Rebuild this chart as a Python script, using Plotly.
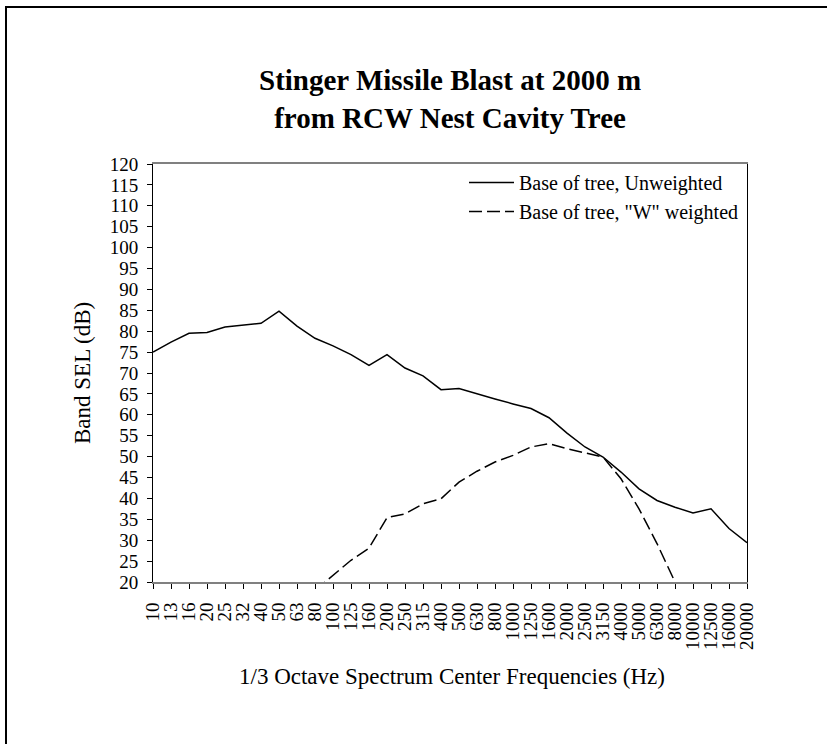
import plotly.graph_objects as go

freqs = ["10", "13", "16", "20", "25", "32", "40", "50", "63", "80", "100", "125",
         "160", "200", "250", "315", "400", "500", "630", "800", "1000", "1250",
         "1600", "2000", "2500", "3150", "4000", "5000", "6300", "8000", "10000",
         "12500", "16000", "20000"]

unweighted = [75.0, 77.4, 79.5, 79.7, 81.0, 81.5, 81.9, 84.8, 81.2, 78.3, 76.5, 74.4,
              71.8, 74.4, 71.2, 69.3, 66.0, 66.3, 65.0, 63.8, 62.6, 61.5, 59.3, 55.6,
              52.3, 49.9, 46.3, 42.3, 39.5, 37.9, 36.5, 37.5, 32.8, 29.4]

w_weighted = [None, None, None, None, None, None, None, None, None, 18.0, 21.6, 25.2,
              28.1, 35.4, 36.3, 38.7, 39.9, 43.9, 46.5, 48.7, 50.3, 52.3, 53.1, 51.9,
              50.9, 49.9, 44.7, 37.5, 29.2, 20.0, None, None, None, None]

names = ["Base of tree, Unweighted", 'Base of tree, "W" weighted']
title_lines = ["Stinger Missile Blast at 2000 m", "from RCW Nest Cavity Tree"]

FONT = "Liberation Serif, Times New Roman, serif"

# plot area in pixels
L, R, T, B = 153, 747, 164, 582
W, H = 827, 744
PW, PH = R - L, B - T


def px(x):
    return (x - L) / PW


def py(y):
    return (B - y) / PH


fig = go.Figure()
fig.add_trace(go.Scatter(x=freqs, y=unweighted, mode="lines", name=names[0],
                         line=dict(color="black", width=1.5)))
fig.add_trace(go.Scatter(x=freqs, y=w_weighted, mode="lines", name=names[1],
                         line=dict(color="black", width=1.5, dash="13px,5px")))

fig.update_layout(
    width=W, height=H,
    margin=dict(l=L, r=W - R, t=T, b=H - B, pad=0),
    paper_bgcolor="white", plot_bgcolor="white",
    font=dict(family=FONT, color="black", size=19),
    showlegend=True,
    legend=dict(x=px(464), y=py(163), xanchor="left", yanchor="top",
                bgcolor="rgba(0,0,0,0)", font=dict(size=20, family=FONT),
                itemwidth=45, tracegroupgap=0),
    xaxis=dict(type="category", range=[0, len(freqs) - 1],
               tickmode="linear", tick0=0, dtick=1,
               showline=True, linecolor="#808080", linewidth=2, mirror=True,
               ticks="outside", ticklen=5, tickcolor="black", tickwidth=1,
               tickangle=-90, showgrid=False, zeroline=False,
               ticklabelstandoff=6,
               tickfont=dict(size=19, family=FONT)),
    yaxis=dict(range=[20, 120], dtick=5, showline=True, linecolor="black",
               linewidth=1, mirror=True, ticks="outside", ticklen=5,
               tickcolor="black", showgrid=False, zeroline=False,
               ticklabelstandoff=5,
               tickfont=dict(size=19, family=FONT)),
    annotations=[
        dict(text="<b>" + title_lines[0] + "<br>" + title_lines[1] + "</b>",
             xref="paper", yref="paper", x=0.5, y=py(99), xanchor="center",
             yanchor="middle", showarrow=False, font=dict(size=29, family=FONT)),
        dict(text="Band SEL (dB)", xref="paper", yref="paper", x=px(82), y=0.5,
             textangle=-90, xanchor="center", yanchor="middle", showarrow=False,
             font=dict(size=23, family=FONT)),
        dict(text="1/3 Octave Spectrum Center Frequencies (Hz)", xref="paper",
             yref="paper", x=px(452), y=py(676), xanchor="center",
             yanchor="middle", showarrow=False, font=dict(size=23, family=FONT)),
    ],
    shapes=[dict(type="rect", xref="paper", yref="paper",
                 x0=px(6), x1=px(840), y0=py(760), y1=py(7),
                 line=dict(color="black", width=2), fillcolor="rgba(0,0,0,0)",
                 layer="below")],
)

fig.write_html("out.html",
               config={"displayModeBar": False},
               post_script="document.body.style.margin='0';"
                           "document.body.style.overflow='hidden';")
